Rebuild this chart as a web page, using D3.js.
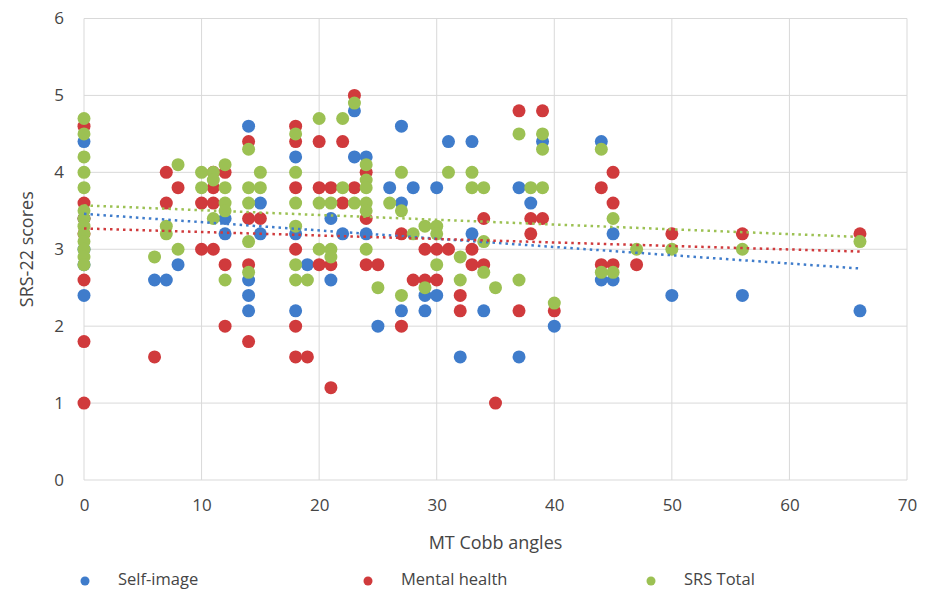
<!DOCTYPE html>
<html>
<head>
<meta charset="utf-8">
<script src="https://cdn.jsdelivr.net/npm/d3@7"></script>
<style>
  html, body { margin: 0; padding: 0; background: #ffffff; }
  svg { display: block; }
  text { font-family: "Open Sans", "Liberation Sans", sans-serif; fill: #454545; }
</style>
</head>
<body>
<svg id="chart" width="932" height="592"></svg>
<script>
// ---------------- DATA ----------------
const xTicks = [0, 10, 20, 30, 40, 50, 60, 70];
const yTicks = [0, 1, 2, 3, 4, 5, 6];
const seriesNames = ["Self-image", "Mental health", "SRS Total"];
const seriesColors = ["#3f7ccb", "#d03a3c", "#9cc153"];

// Self-image: [MT Cobb angle, score]
const selfImage = [
  [0,4.4],[0,3.4],[0,3.0],[0,2.8],[0,2.4],
  [6,2.6],[7,2.6],[8,2.8],
  [12,3.4],[12,3.2],
  [14,4.6],[14,2.6],[14,2.4],[14,2.2],
  [15,3.6],[15,3.2],
  [18,4.2],[18,3.2],[18,2.2],[19,2.8],
  [21,3.4],[21,2.6],[22,3.2],
  [23,4.8],[23,4.2],[24,4.2],[24,3.2],[25,2.0],
  [26,3.8],[27,4.6],[27,3.6],[27,2.2],[28,3.8],
  [29,2.4],[29,2.2],[30,3.8],[30,2.4],[31,4.4],
  [32,1.6],[33,4.4],[33,3.2],[34,2.2],
  [37,3.8],[37,1.6],[38,3.6],[39,4.4],[40,2.0],
  [44,4.4],[44,2.6],[45,3.2],[45,2.6],
  [50,2.4],[56,2.4],[66,2.2]
];

// Mental health
const mentalHealth = [
  [0,4.6],[0,3.6],[0,3.4],[0,3.2],[0,2.6],[0,1.8],[0,1.0],
  [6,1.6],[7,4.0],[7,3.6],[8,3.8],
  [10,3.6],[10,3.0],[11,4.0],[11,3.8],[11,3.6],[11,3.0],
  [12,4.0],[12,2.8],[12,2.0],
  [14,4.4],[14,3.4],[14,2.8],[14,1.8],[15,3.4],
  [18,4.6],[18,4.4],[18,3.8],[18,3.0],[18,2.0],[18,1.6],[19,1.6],
  [20,4.4],[20,3.8],[20,2.8],[21,3.8],[21,2.8],[21,1.2],
  [22,4.4],[22,3.6],[23,5.0],[23,3.8],
  [24,4.0],[24,3.4],[24,2.8],[25,2.8],
  [27,3.2],[27,2.0],[28,2.6],[29,3.0],[29,2.6],[30,3.0],[30,2.6],[31,3.0],
  [32,2.4],[32,2.2],[33,3.0],[33,2.8],[34,3.4],[34,2.8],[35,1.0],
  [37,4.8],[37,2.2],[38,3.4],[38,3.2],[39,4.8],[39,3.4],[40,2.2],
  [44,3.8],[44,2.8],[45,4.0],[45,3.6],[45,2.8],[47,2.8],
  [50,3.2],[56,3.2],[66,3.2]
];

// SRS Total
const srsTotal = [
  [0,4.7],[0,4.5],[0,4.2],[0,4.0],[0,3.8],[0,3.5],[0,3.4],[0,3.3],[0,3.2],
  [0,3.1],[0,3.0],[0,2.9],[0,2.8],
  [6,2.9],[7,3.3],[7,3.2],[8,4.1],[8,3.0],
  [10,4.0],[10,3.8],[11,4.0],[11,3.9],[11,3.4],
  [12,4.1],[12,3.8],[12,3.6],[12,3.5],[12,2.6],
  [14,4.3],[14,3.8],[14,3.6],[14,3.1],[14,2.7],[15,4.0],[15,3.8],
  [18,4.5],[18,4.0],[18,3.6],[18,3.3],[18,2.8],[18,2.6],[19,2.6],
  [20,4.7],[20,3.6],[20,3.0],[21,3.6],[21,3.0],[21,2.9],
  [22,4.7],[22,3.8],[23,4.9],[23,3.6],
  [24,4.1],[24,3.9],[24,3.8],[24,3.6],[24,3.5],[24,3.0],[25,2.5],
  [26,3.6],[27,4.0],[27,3.5],[27,2.4],[28,3.2],[29,3.3],[29,2.5],
  [30,3.3],[30,3.2],[30,2.8],[31,4.0],[32,2.9],[32,2.6],
  [33,4.0],[33,3.8],[34,3.8],[34,3.1],[34,2.7],[35,2.5],
  [37,4.5],[37,2.6],[38,3.8],[39,4.5],[39,4.3],[39,3.8],[40,2.3],
  [44,4.3],[44,2.7],[45,3.4],[45,2.7],[47,3.0],
  [50,3.0],[56,3.0],[66,3.1]
];

// Linear trendlines: [x start, y start, x end, y end]
const trendSelfImage = [0, 3.46, 66, 2.75];
const trendMentalHealth = [0, 3.27, 66, 2.97];
const trendSrsTotal = [0, 3.57, 66, 3.16];

// ---------------- CHART ----------------
const svg = d3.select("#chart");
const W = 932, H = 592;
const margin = { left: 84, right: 25, top: 18.5, bottom: 112 };

const x = d3.scaleLinear().domain([0, 70]).range([margin.left, W - margin.right]);
const y = d3.scaleLinear().domain([0, 6]).range([H - margin.bottom, margin.top]);

// Gridlines
svg.append("g").selectAll("line.v").data(xTicks).join("line")
  .attr("x1", d => x(d)).attr("x2", d => x(d))
  .attr("y1", y(0)).attr("y2", y(6))
  .attr("stroke", "#d9d9d9").attr("stroke-width", 1);
svg.append("g").selectAll("line.h").data(yTicks).join("line")
  .attr("x1", x(0)).attr("x2", x(70))
  .attr("y1", d => y(d)).attr("y2", d => y(d))
  .attr("stroke", "#d9d9d9").attr("stroke-width", 1);

// Axes (labels only)
const xAxis = svg.append("g").attr("transform", `translate(0,${y(0)})`)
  .call(d3.axisBottom(x).tickValues(xTicks).tickSize(0).tickPadding(19).tickFormat(d3.format("d")));
xAxis.select(".domain").remove();
xAxis.selectAll("text").style("font-size", "17px").attr("fill", "#454545");

const yAxis = svg.append("g").attr("transform", `translate(${x(0)},0)`)
  .call(d3.axisLeft(y).tickValues(yTicks).tickSize(0).tickPadding(20).tickFormat(d3.format("d")));
yAxis.select(".domain").remove();
yAxis.selectAll("text").style("font-size", "17px").attr("fill", "#454545");

// Axis titles
svg.append("text").attr("x", (x(0) + x(70)) / 2).attr("y", 549)
  .attr("text-anchor", "middle").style("font-size", "18px").text("MT Cobb angles");
svg.append("text").attr("transform", `translate(33,${(y(0) + y(6)) / 2}) rotate(-90)`)
  .attr("text-anchor", "middle").style("font-size", "18px").text("SRS-22 scores");

// Points
const allSeries = [selfImage, mentalHealth, srsTotal];
allSeries.forEach((data, i) => {
  svg.append("g").selectAll("circle").data(data).join("circle")
    .attr("cx", d => x(d[0])).attr("cy", d => y(d[1]))
    .attr("r", 6.5).attr("fill", seriesColors[i]);
});

// Trendlines
const trends = [trendSelfImage, trendMentalHealth, trendSrsTotal];
trends.forEach((t, i) => {
  svg.append("line")
    .attr("x1", x(t[0])).attr("y1", y(t[1]))
    .attr("x2", x(t[2])).attr("y2", y(t[3]))
    .attr("stroke", seriesColors[i]).attr("stroke-width", 2.5)
    .attr("stroke-dasharray", "2.5,4");
});

// Legend
const legendX = [85, 368, 651];
const legend = svg.append("g");
seriesNames.forEach((name, i) => {
  legend.append("circle").attr("cx", legendX[i]).attr("cy", 581).attr("r", 4.5).attr("fill", seriesColors[i]);
  legend.append("text").attr("x", legendX[i] + 33).attr("y", 585).style("font-size", "16.5px").text(name);
});
</script>
</body>
</html>
